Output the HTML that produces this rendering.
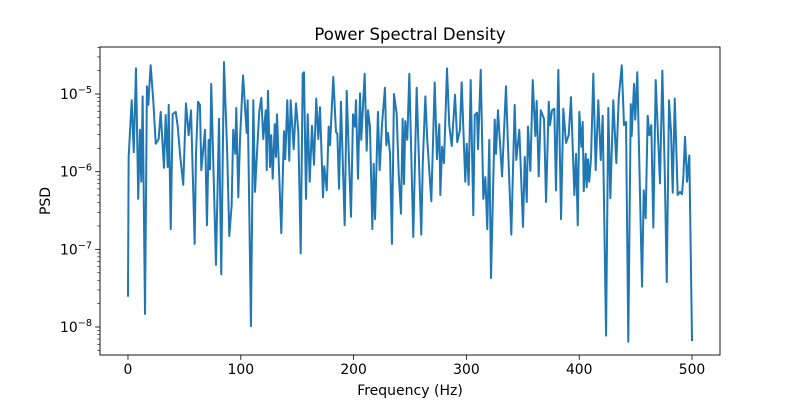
<!DOCTYPE html>
<html><head><meta charset="utf-8"><style>
body{margin:0;background:#fff}
svg{display:block;font-family:"DejaVu Sans","Liberation Sans",sans-serif}
</style></head><body>
<svg id="chart" width="800" height="400" viewBox="0 0 800 400">
<rect width="800" height="400" fill="#fff"/>
<text x="410" y="40" font-size="16.5" text-anchor="middle">Power Spectral Density</text>
<g id="axes"></g>
<path id="line" fill="none" stroke="#1f77b4" stroke-width="2" stroke-linejoin="round"/>
<rect x="100" y="47" width="620" height="308" fill="none" stroke="#000" stroke-width="0.9"/>
<text x="410" y="395" font-size="14" text-anchor="middle">Frequency (Hz)</text>
<text transform="translate(50,201) rotate(-90)" font-size="14" text-anchor="middle">PSD</text>
</svg>
<script>
const freqs=[0,0.6,3.3,5.1,7.1,9.1,10.6,11.8,13.0,15.1,16.8,18.0,20.1,22.4,24.6,27.2,29.0,31.9,33.4,35.2,36.1,37.9,39.6,42.3,44.1,46.1,49.0,51.4,53.8,55.9,59.1,60.3,62.1,63.8,65.0,68.3,70.0,71.5,72.7,73.8,78.0,80.7,82.7,85.1,88.0,89.8,91.9,93.3,95.1,96.0,97.8,99.3,102.0,105.2,106.1,109.0,111.1,112.6,114.4,116.4,118.2,119.9,122.1,123.0,124.1,125.9,127.0,128.3,130.1,131.2,132.1,135.9,138.3,139.4,141.2,143.0,144.2,146.9,148.9,151.0,153.1,154.9,156.0,157.8,159.3,161.1,163.1,164.9,166.9,168.7,170.2,172.9,174.0,176.2,177.9,179.1,182.0,184.4,185.6,187.1,188.8,192.1,193.9,195.9,197.7,199.5,201.2,202.1,203.9,205.7,206.8,209.8,211.6,212.8,214.5,216.6,217.8,219.0,221.6,223.1,225.2,227.8,229.0,230.5,232.3,234.0,235.8,238.2,240.0,242.0,243.5,244.7,245.8,247.6,249.4,252.9,255.9,260.0,261.3,263.6,265.3,268.9,271.9,273.9,276.0,276.9,278.4,280.1,282.8,284.8,287.0,289.9,291.9,294.3,295.8,299.0,300.3,302.0,303.8,306.1,307.4,309.4,310.3,312.7,315.0,316.8,318.5,320.3,321.8,325.1,326.2,328.0,331.6,335.1,336.9,339.8,342.8,344.2,346.9,350.2,351.7,353.5,354.6,356.7,358.8,361.1,362.3,364.1,365.9,368.8,370.6,373.0,374.1,375.9,377.9,379.4,381.5,383.9,385.9,388.3,390.7,392.7,395.7,397.2,398.7,400.1,401.9,403.1,404.0,405.8,406.6,407.8,408.9,410.5,412.5,414.6,416.9,419.1,420.8,423.8,425.8,427.6,430.2,432.9,435.0,437.7,439.7,441.5,443.5,445.7,446.5,448.6,449.7,451.5,455.7,457.2,458.9,460.7,462.2,463.9,465.7,467.8,471.6,473.7,475.8,477.6,479.6,481.4,482.9,484.7,487.3,489.4,491.1,492.3,493.8,495.6,497.6,500];
const psdLog10=[-7.61,-5.81,-5.08,-5.75,-4.67,-6.35,-5.46,-6.13,-5.03,-7.83,-4.90,-5.14,-4.63,-5.08,-5.64,-5.58,-5.23,-5.95,-5.27,-5.94,-5.14,-6.74,-5.26,-5.23,-5.42,-5.77,-6.17,-5.12,-5.53,-5.21,-6.93,-5.77,-5.10,-5.14,-5.98,-5.46,-6.69,-5.59,-5.97,-4.87,-7.20,-5.32,-7.32,-4.59,-5.77,-6.83,-6.43,-5.46,-5.77,-5.18,-6.33,-5.59,-4.76,-5.50,-5.08,-7.99,-5.08,-6.26,-5.75,-5.22,-5.05,-5.58,-5.21,-5.98,-4.96,-5.94,-5.53,-6.09,-5.39,-5.81,-5.26,-6.79,-5.48,-5.84,-5.08,-5.86,-5.08,-5.71,-5.12,-5.49,-7.05,-4.74,-4.72,-6.35,-5.26,-6.13,-5.41,-5.91,-5.06,-5.58,-5.17,-6.33,-5.93,-6.24,-5.42,-5.66,-4.78,-5.49,-5.51,-6.22,-5.10,-6.69,-4.96,-5.85,-6.58,-5.26,-5.42,-5.08,-6.09,-4.99,-5.59,-4.74,-5.73,-5.21,-5.42,-6.74,-5.90,-6.61,-5.23,-5.98,-5.39,-4.92,-5.66,-5.50,-5.77,-6.93,-5.00,-5.26,-6.03,-6.54,-5.32,-6.16,-5.35,-5.59,-4.74,-6.84,-4.92,-6.81,-5.90,-5.03,-5.59,-6.38,-4.85,-5.84,-5.39,-6.30,-5.68,-5.89,-4.67,-5.40,-5.67,-5.01,-5.62,-5.46,-4.85,-6.13,-5.64,-6.17,-4.82,-6.56,-5.27,-5.24,-5.71,-4.69,-6.35,-6.07,-6.74,-5.59,-7.37,-5.33,-5.77,-5.21,-6.06,-4.90,-5.68,-6.81,-5.14,-5.85,-5.46,-6.71,-5.81,-6.39,-5.42,-5.99,-4.82,-5.54,-5.09,-6.06,-5.21,-5.32,-6.39,-5.10,-5.40,-5.21,-5.19,-6.24,-4.69,-6.61,-5.19,-5.63,-5.53,-5.04,-6.30,-5.77,-6.69,-5.23,-5.68,-5.36,-6.25,-5.77,-6.20,-5.84,-6.13,-5.81,-4.74,-5.98,-5.08,-5.85,-5.28,-8.11,-5.18,-6.34,-5.08,-5.89,-5.06,-4.63,-5.40,-5.36,-8.19,-5.13,-5.54,-4.87,-5.33,-4.72,-7.48,-6.24,-6.60,-5.28,-5.53,-5.40,-6.72,-4.82,-6.15,-4.70,-5.98,-7.42,-5.08,-5.49,-6.27,-5.06,-6.30,-6.26,-6.29,-6.07,-5.55,-6.13,-5.79,-8.18];
const xTicks=[0,100,200,300,400,500];
const yTickExps=[-8,-7,-6,-5];

const NS='http://www.w3.org/2000/svg';
const L=100,R=720,T=47,B=355;
const xMin=-24.8,xMax=524.8,yMin=-8.36,yMax=-4.395;
function xs(f){return L+(f-xMin)/(xMax-xMin)*(R-L);}
function ys(lg){return B-(lg-yMin)/(yMax-yMin)*(B-T);}
const axes=document.getElementById('axes');
function mk(tag,attrs){const e=document.createElementNS(NS,tag);for(const k in attrs)e.setAttribute(k,attrs[k]);axes.appendChild(e);return e;}
xTicks.forEach(v=>{
  const x=xs(v);
  const t=mk('line',{x1:x,x2:x,y1:B,y2:B+4.9,stroke:'#000','stroke-width':0.8});
  
  
  const l=mk('text',{x:x,y:B+19,'font-size':13.9,'text-anchor':'middle'});
  
  
  l.textContent=v;
});
for(let e=-9;e<=-4;e++){
  for(let m=2;m<=9;m++){
    const lg=e+Math.log10(m);
    if(lg<yMin||lg>yMax)continue;
    const y=ys(lg);
    const t=mk('line',{x1:L-2.8,x2:L,y1:y,y2:y,stroke:'#000','stroke-width':0.6});
    
    
  }
}
yTickExps.forEach(v=>{
  const y=ys(v);
  const t=mk('line',{x1:L-4.9,x2:L,y1:y,y2:y,stroke:'#000','stroke-width':0.8});
  
  
  const l=mk('text',{x:L-8,y:y+5,'font-size':13.9,'text-anchor':'end'});
  
  
  const base=document.createElementNS(NS,'tspan');base.textContent='10';l.appendChild(base);
  const sup=document.createElementNS(NS,'tspan');sup.setAttribute('dy','-6');sup.setAttribute('font-size','9.7');sup.textContent='\u2212'+Math.abs(v);l.appendChild(sup);
});
let d='';
freqs.forEach((f,i)=>{d+=(i?'L':'M')+xs(f).toFixed(2)+' '+ys(psdLog10[i]).toFixed(2);});
document.getElementById('line').setAttribute('d',d);
</script>
</body></html>
